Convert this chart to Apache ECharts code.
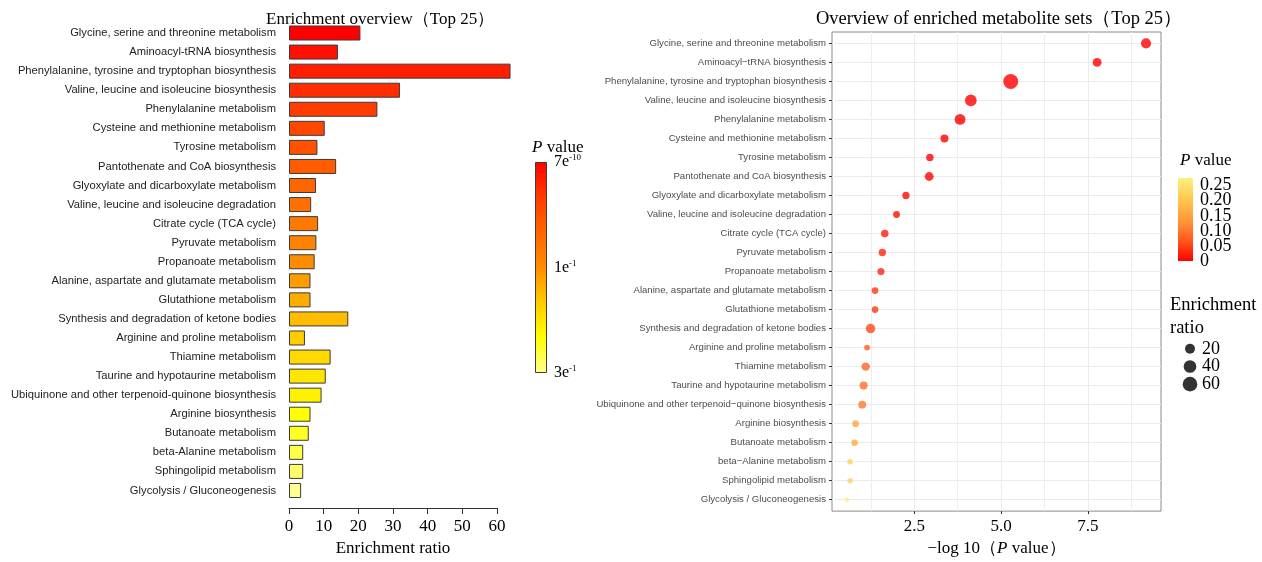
<!DOCTYPE html>
<html>
<head>
<meta charset="utf-8">
<script src="https://cdn.jsdelivr.net/npm/echarts@6/dist/echarts.min.js"></script>
<style>
  html, body { margin: 0; padding: 0; background: #ffffff; }
  #chart { width: 1262px; height: 562px; }
</style>
</head>
<body>
<div id="chart"></div>
<script>
// Top 25 enriched metabolite sets, ordered by P value (smallest first)
const pathways = [
  'Glycine, serine and threonine metabolism',
  'Aminoacyl-tRNA biosynthesis',
  'Phenylalanine, tyrosine and tryptophan biosynthesis',
  'Valine, leucine and isoleucine biosynthesis',
  'Phenylalanine metabolism',
  'Cysteine and methionine metabolism',
  'Tyrosine metabolism',
  'Pantothenate and CoA biosynthesis',
  'Glyoxylate and dicarboxylate metabolism',
  'Valine, leucine and isoleucine degradation',
  'Citrate cycle (TCA cycle)',
  'Pyruvate metabolism',
  'Propanoate metabolism',
  'Alanine, aspartate and glutamate metabolism',
  'Glutathione metabolism',
  'Synthesis and degradation of ketone bodies',
  'Arginine and proline metabolism',
  'Thiamine metabolism',
  'Taurine and hypotaurine metabolism',
  'Ubiquinone and other terpenoid-quinone biosynthesis',
  'Arginine biosynthesis',
  'Butanoate metabolism',
  'beta-Alanine metabolism',
  'Sphingolipid metabolism',
  'Glycolysis / Gluconeogenesis'
];

// Enrichment ratio of each set
const enrichmentRatio = [
  20.6, 14.1, 63.9, 32.0, 25.5, 10.3, 8.2, 13.6, 7.8, 6.4,
  8.4, 7.9, 7.4, 6.2, 6.2, 17.1, 4.6, 12.0, 10.6, 9.4,
  6.2, 5.7, 4.1, 4.1, 3.5
];

// -log10(P value) of each set
const negLog10P = [
  9.18, 7.77, 5.28, 4.13, 3.82, 3.37, 2.95, 2.93, 2.26, 1.99,
  1.65, 1.58, 1.54, 1.37, 1.37, 1.24, 1.14, 1.10, 1.04, 1.00,
  0.81, 0.78, 0.65, 0.65, 0.56
];

// Legend / axis tick labels
const heatScaleLabels = ['7e-10', '1e-1', '3e-1'];
const pValueTicks = [0, 0.05, 0.10, 0.15, 0.20, 0.25];
const logPMajorTicks = [2.5, 5.0, 7.5];
const logPMinorTicks = [1.25, 3.75, 6.25, 8.75];
const sizeBreaks = [20, 40, 60];

// Colour ramps
const heatPalette = ['#ff0000', '#ff3d00', '#ff6600', '#ff8c00', '#ffcc00', '#ffff00', '#ffff90'];
const pPalette = ['#ff0000', '#ff5a1e', '#ff9a3a', '#ffc850', '#fff080'];

const SERIF = '"Liberation Serif", "DejaVu Serif", serif';
const SANS = '"Liberation Sans", Arial, sans-serif';

const pValues = negLog10P.map(v => Math.pow(10, -v));
const pMax = Math.max(...pValues);
const rMin = Math.min(...enrichmentRatio);
const rMax = Math.max(...enrichmentRatio);
const dotSize = r => 4.5 + 10.5 * Math.sqrt(Math.max(0, (r - rMin) / (rMax - rMin)));

const lpMin = Math.min(...negLog10P), lpMax = Math.max(...negLog10P);
const lpSpan = lpMax - lpMin;
const xLo = lpMin - 0.05 * lpSpan, xHi = lpMax + 0.05 * lpSpan;

const rowIdx = pathways.map((_, i) => i);
const toMinus = s => s.replace(/-/g, '\u2212');

// The P value key labels sit very close together, so they are split across two
// overlaid axes to keep every label visible.
const pTicksEven = pValueTicks.filter((_, i) => i % 2 === 0);
const pTicksOdd = pValueTicks.filter((_, i) => i % 2 === 1);
const pTickText = v => (v === 0 ? '0' : v.toFixed(2));

const gradient = (palette, x0, y0, x1, y1) => new echarts.graphic.LinearGradient(
  x0, y0, x1, y1, palette.map((c, i) => ({ offset: i / (palette.length - 1), color: c })));

const barData = pathways.map((name, i) => [enrichmentRatio[i], name, i]);
const dotData = pathways.map((name, i) => [negLog10P[i], i, pValues[i], enrichmentRatio[i]]);

const supRich = {
  b: { fontFamily: SERIF, fontSize: 16, color: '#000' },
  s: { fontFamily: SERIF, fontSize: 9, color: '#000', verticalAlign: 'top', padding: [0, 0, 8, 0] }
};
const pTitleRich = {
  i: { fontFamily: SERIF, fontSize: 17, fontStyle: 'italic', fontWeight: 'normal', color: '#000' },
  n: { fontFamily: SERIF, fontSize: 17, fontWeight: 'normal', color: '#000' }
};

const pKeyLabel = ticks => ({
  customValues: ticks, formatter: pTickText,
  fontFamily: SERIF, fontSize: 18, color: '#000', margin: 7, lineHeight: 12
});

const chart = echarts.init(document.getElementById('chart'));

chart.setOption({
  animation: false,
  backgroundColor: '#ffffff',
  title: [
    { text: 'Enrichment overview（Top 25）', left: 261, top: 6,
      textStyle: { fontFamily: SERIF, fontSize: 17, fontWeight: 'normal', color: '#000' } },
    { text: 'Overview of enriched metabolite sets（Top 25）', left: 811, top: 5,
      textStyle: { fontFamily: SERIF, fontSize: 18.5, fontWeight: 'normal', color: '#000' } },
    { text: '{i|P}{n| value}', left: 527, top: 134, textStyle: { rich: pTitleRich } },
    { text: '{i|P}{n| value}', left: 1175, top: 147, textStyle: { rich: pTitleRich } },
    { text: 'Enrichment\nratio', left: 1165, top: 289,
      textStyle: { fontFamily: SERIF, fontSize: 18.5, fontWeight: 'normal', color: '#000', lineHeight: 23 } }
  ],
  grid: [
    { left: 289, top: 23.5, width: 208, height: 477 },               // bar chart
    { left: 832, top: 32, width: 329, height: 480, show: true,
      borderColor: '#8a8a8a', borderWidth: 1, backgroundColor: '#ffffff' }, // dot plot
    { left: 535, top: 162, width: 12, height: 211 },                 // heat colour bar
    { left: 1178, top: 178, width: 15, height: 83 },                 // P value colour bar
    { left: 1183, top: 340, width: 14, height: 53 }                  // size key
  ],
  xAxis: [
    { type: 'value', gridIndex: 0, min: 0, max: 60, interval: 10, offset: 8,
      axisLine: { show: true, onZero: false, lineStyle: { color: '#333', width: 1 } },
      axisTick: { show: true, length: 6, lineStyle: { color: '#333' } },
      axisLabel: { fontFamily: SERIF, fontSize: 17, color: '#000', margin: 10 },
      splitLine: { show: false },
      name: 'Enrichment ratio', nameLocation: 'middle', nameGap: 32,
      nameTextStyle: { fontFamily: SERIF, fontSize: 17, color: '#000' } },
    { type: 'value', gridIndex: 1, min: xLo, max: xHi,
      axisLine: { show: false, onZero: false },
      axisTick: { show: true, length: 3, lineStyle: { color: '#333' }, customValues: logPMajorTicks },
      axisLabel: { customValues: logPMajorTicks, formatter: v => v.toFixed(1),
        fontFamily: SERIF, fontSize: 17, color: '#000', margin: 7 },
      splitLine: { show: true, lineStyle: { color: '#ebebeb', width: 1 } },
      name: '\u2212log 10（{i|P}{n| value}）', nameLocation: 'middle', nameGap: 28,
      nameTextStyle: { fontFamily: SERIF, fontSize: 17, color: '#000', rich: pTitleRich } },
    { type: 'value', gridIndex: 1, min: xLo, max: xHi, position: 'top',
      axisLine: { show: false, onZero: false },
      axisTick: { show: false, customValues: logPMinorTicks },
      axisLabel: { show: false, customValues: logPMinorTicks },
      splitLine: { show: true, lineStyle: { color: '#efefef', width: 1 } } },
    { type: 'category', gridIndex: 2, data: [''], show: false },
    { type: 'category', gridIndex: 3, data: [''], show: false },
    { type: 'value', gridIndex: 4, min: -1, max: 1, show: false }
  ],
  yAxis: [
    { type: 'category', gridIndex: 0, data: pathways, inverse: true,
      axisLine: { show: false }, axisTick: { show: false },
      axisLabel: { interval: 0, fontFamily: SANS, fontSize: 11.2, color: '#222', margin: 13 } },
    { type: 'value', gridIndex: 1, min: -0.6, max: pathways.length - 0.4, inverse: true,
      axisLine: { show: false, onZero: false },
      axisTick: { show: true, length: 3, lineStyle: { color: '#333' }, customValues: rowIdx },
      axisLabel: { customValues: rowIdx, formatter: v => toMinus(pathways[Math.round(v)]),
        fontFamily: SANS, fontSize: 9.6, color: '#4d4d4d', margin: 6 },
      splitLine: { show: true, lineStyle: { color: '#ebebeb', width: 1 } } },
    { type: 'value', gridIndex: 2, min: 0, max: 24, interval: 12, inverse: true, position: 'right',
      axisLine: { show: false }, axisTick: { show: false }, splitLine: { show: false },
      axisLabel: { margin: 7, showMinLabel: true, showMaxLabel: true, formatter: v => {
        const parts = heatScaleLabels[Math.round(v / 12)].split('e');
        return '{b|' + parts[0] + 'e}{s|' + parts[1] + '}';
      }, rich: supRich } },
    { type: 'value', gridIndex: 3, min: 0, max: pMax, position: 'right',
      axisLine: { show: false }, splitLine: { show: false },
      axisTick: { show: true, inside: true, length: 3, customValues: pValueTicks,
        lineStyle: { color: 'rgba(255,255,255,0.85)' } },
      axisLabel: pKeyLabel(pTicksEven) },
    { type: 'category', gridIndex: 4, data: sizeBreaks.map(String), inverse: true, position: 'right',
      axisLine: { show: false }, axisTick: { show: false }, splitLine: { show: false },
      axisLabel: { interval: 0, fontFamily: SERIF, fontSize: 18, color: '#000', margin: 5 } },
    { type: 'value', gridIndex: 3, min: 0, max: pMax, position: 'right', offset: 0,
      axisLine: { show: false }, splitLine: { show: false },
      axisTick: { show: false, customValues: pTicksOdd },
      axisLabel: pKeyLabel(pTicksOdd) }
  ],
  visualMap: [
    { type: 'continuous', show: false, seriesIndex: 0, dimension: 2,
      min: 0, max: pathways.length - 1, inRange: { color: heatPalette } },
    { type: 'continuous', show: false, seriesIndex: 1, dimension: 2,
      min: 0, max: pMax, inRange: { color: pPalette } }
  ],
  series: [
    { type: 'bar', xAxisIndex: 0, yAxisIndex: 0, data: barData, barWidth: 15, clip: false,
      encode: { x: 0, y: 1 },
      itemStyle: { borderColor: '#3a3a3a', borderWidth: 1 } },
    { type: 'scatter', xAxisIndex: 1, yAxisIndex: 1, data: dotData, encode: { x: 0, y: 1 },
      symbol: 'circle', symbolSize: v => dotSize(v[3]) },
    { type: 'bar', xAxisIndex: 3, yAxisIndex: 2, data: [pathways.length - 1], barWidth: '100%',
      itemStyle: { color: gradient(heatPalette, 0, 0, 0, 1), borderColor: '#4a3a2a', borderWidth: 1 } },
    { type: 'bar', xAxisIndex: 4, yAxisIndex: 3, data: [pMax], barWidth: '100%',
      itemStyle: { color: gradient(pPalette, 0, 1, 0, 0) } },
    { type: 'scatter', xAxisIndex: 5, yAxisIndex: 4,
      data: sizeBreaks.map(s => [0, String(s), s]),
      symbol: 'circle', symbolSize: v => dotSize(v[2]), itemStyle: { color: '#000' } }
  ]
});
</script>
</body>
</html>
